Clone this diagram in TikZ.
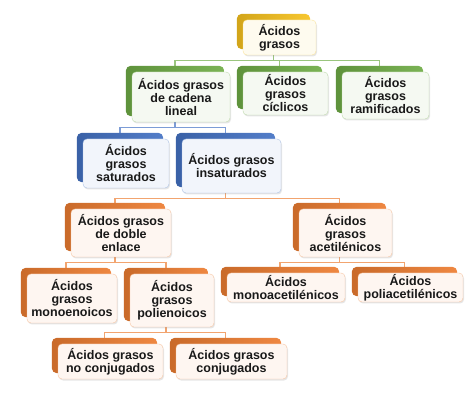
\documentclass[tikz,border=0pt]{standalone}
\usepackage{fontspec}
\setmainfont{Liberation Sans}
\usetikzlibrary{backgrounds,calc,shadows}

\definecolor{amarillo}{HTML}{F7C21E}
\definecolor{verde}{HTML}{6FAC46}
\definecolor{azul}{HTML}{4472C4}
\definecolor{naranja}{HTML}{ED7D31}

\tikzset{
  caja/.style={draw=#1!45, fill=#1!7, rounded corners=4pt, inner sep=0pt,
    align=center, text=black!90, font=\fontsize{12.5}{13}\selectfont\bfseries,
    drop shadow={shadow xshift=1pt, shadow yshift=-1.5pt, opacity=0.2}},
  pestana/.style={left color=#1!85!black, right color=#1!92!white, rounded corners=5pt},
  rama/.style={draw=#1!70, line width=1.2pt}
}

\begin{document}
\begin{tikzpicture}[x=1pt, y=-1pt]
        \useasboundingbox (0,0) rectangle (474,403);
        % cajas
        \node [caja=amarillo, minimum width=73pt, minimum height=35pt] (top) at (279.5,37.5) {Ácidos\\grasos};
        \node [caja=verde, minimum width=98pt, minimum height=50pt] (lin) at (181,97) {Ácidos grasos\\de cadena\\lineal};
        \node [caja=verde, minimum width=85pt, minimum height=43pt] (cic) at (285.5,93.5) {Ácidos\\grasos\\cíclicos};
        \node [caja=verde, minimum width=87pt, minimum height=47pt] (ram) at (385.5,95.5) {Ácidos\\grasos\\ramificados};
        \node [caja=azul, minimum width=86pt, minimum height=49pt] (sat) at (126,163.5) {Ácidos\\grasos\\saturados};
        \node [caja=azul, minimum width=99pt, minimum height=54pt] (ins) at (231.5,166) {Ácidos grasos\\insaturados};
        \node [caja=naranja, minimum width=100pt, minimum height=48pt] (dob) at (121,233) {Ácidos grasos\\de doble\\enlace};
        \node [caja=naranja, minimum width=93pt, minimum height=48pt] (ace) at (345.5,233) {Ácidos\\grasos\\acetilénicos};
        \node [caja=naranja, minimum width=90pt, minimum height=49pt] (mon) at (72,298.5) {Ácidos\\grasos\\monoenoicos};
        \node [caja=naranja, minimum width=84pt, minimum height=53pt] (pol) at (172,300.5) {Ácidos\\grasos\\polienoicos};
        \node [caja=naranja, minimum width=118pt, minimum height=29pt] (mac) at (286,287.5) {Ácidos\\monoacetilénicos};
        \node [caja=naranja, minimum width=105pt, minimum height=29pt] (pac) at (410.5,287.5) {Ácidos\\poliacetilénicos};
        \node [caja=naranja, minimum width=105pt, minimum height=35pt] (noc) at (110.5,361.5) {Ácidos grasos\\no conjugados};
        \node [caja=naranja, minimum width=111pt, minimum height=35pt] (con) at (231.5,361.5) {Ácidos grasos\\conjugados};
        \begin{pgfonlayer}{background}
        % ramas
        \foreach \p/\h/\c in {top/lin/verde, top/cic/verde, top/ram/verde,
                lin/sat/azul, lin/ins/azul, ins/dob/naranja, ins/ace/naranja,
                dob/mon/naranja, dob/pol/naranja, ace/mac/naranja, ace/pac/naranja,
                pol/noc/naranja, pol/con/naranja}
            \draw [rama=\c] ([xshift=-6pt]\p.south) -- ++(0,5) -| ([xshift=-6pt]\h.north);
        % pestanas
        \foreach \n/\c in {top/amarillo, lin/verde, cic/verde, ram/verde, sat/azul, ins/azul,
                dob/naranja, ace/naranja, mon/naranja, pol/naranja, mac/naranja,
                pac/naranja, noc/naranja, con/naranja}
            \shade [pestana=\c] ($(\n.north west)+(-6,-6)$) rectangle ($(\n.south east)+(-6,-6)$);
        \end{pgfonlayer}
\end{tikzpicture}
\end{document}
